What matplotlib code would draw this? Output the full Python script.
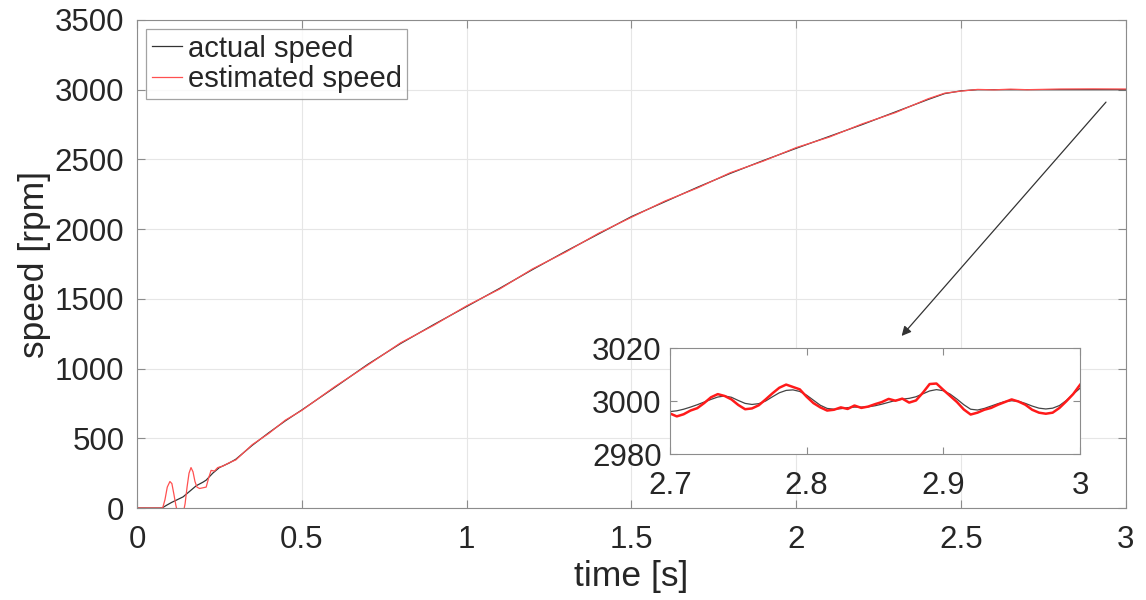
import numpy as np
import matplotlib.pyplot as plt

plt.rcParams['font.family'] = ['Liberation Sans', 'DejaVu Sans']

# main plot data (time [s], speed [rpm])
t_act = [0, 0.076, 0.09, 0.105, 0.12, 0.14, 0.16, 0.18, 0.2, 0.21, 0.23, 0.25, 0.28,
         0.3, 0.35, 0.4, 0.45, 0.5, 0.6, 0.7, 0.8, 0.9, 1.0, 1.1, 1.2, 1.3, 1.4, 1.5,
         1.6, 1.7, 1.8, 1.9, 2.0, 2.1, 2.2, 2.3, 2.4, 2.45, 2.5, 2.55, 2.6, 2.7, 2.8,
         2.9, 3.0]
v_act = [0, 0, 20, 40, 57, 80, 120, 160, 185, 200, 250, 290, 323,
         350, 450, 540, 625, 703, 865, 1030, 1180, 1315, 1445, 1575, 1710, 1840, 1965, 2090,
         2195, 2300, 2400, 2492, 2580, 2665, 2750, 2840, 2930, 2972, 2992, 3000, 3000, 3000, 3000,
         3000, 3000]

t_est = [0, 0.078, 0.085, 0.092, 0.1, 0.106, 0.112, 0.118, 0.124, 0.132, 0.14, 0.146,
         0.152, 0.158, 0.164, 0.17, 0.176, 0.182, 0.19, 0.2, 0.21, 0.218, 0.225, 0.235,
         0.245, 0.26, 0.28, 0.3, 0.35, 0.4, 0.45, 0.5, 0.6, 0.7, 0.8, 0.9, 1.0, 1.1, 1.2,
         1.3, 1.4, 1.5, 1.6, 1.7, 1.8, 1.9, 2.0, 2.1, 2.2, 2.3, 2.4, 2.45, 2.5, 2.55, 2.6,
         2.65, 2.7, 2.8, 2.9, 3.0]
v_est = [0, 0, 60, 150, 190, 175, 100, 20, -40, -80, -40, 30,
         150, 250, 290, 260, 190, 150, 140, 145, 150, 220, 270, 265,
         290, 300, 325, 345, 455, 535, 630, 700, 870, 1025, 1185, 1310, 1450, 1570, 1715,
         1835, 1970, 2085, 2200, 2295, 2405, 2488, 2585, 2660, 2755, 2835, 2935, 2975, 2990, 3002, 2999,
         3004, 3000, 3005, 3006, 3005]

# inset data, 2.7 .. 3.0 s in 5 ms steps
t_zoom = np.linspace(2.7, 3.0, 61)
v_act_zoom = [2996.0, 2996.3, 2996.9, 2997.7, 2998.6, 2999.6, 3000.6, 3001.5, 3001.9, 3001.4,
              3000.2, 2999.1, 2998.7, 2999.0, 3000.0, 3001.6, 3003.1, 3004.0, 3004.2, 3003.6,
              3002.2, 3000.3, 2998.4, 2997.2, 2996.9, 2997.1, 2997.5, 2997.7, 2997.7, 2997.8,
              2998.2, 2998.8, 2999.5, 3000.2, 3000.7, 3001.0, 3001.6, 3002.7, 3003.8, 3004.3,
              3003.9, 3002.6, 3000.7, 2998.6, 2996.9, 2996.6, 2997.2, 2998.1, 2999.0, 2999.8,
              3000.1, 2999.9, 2999.1, 2998.1, 2997.3, 2997.0, 2997.3, 2998.3, 3000.2, 3002.6,
              3004.8]
v_est_zoom = [2995.3, 2994.2, 2995.0, 2996.4, 2997.3, 2999.2, 3001.4, 3002.6, 3001.9, 3000.6,
              2998.5, 2996.9, 2997.2, 2998.4, 3000.6, 3002.9, 3005.0, 3006.2, 3005.3, 3004.4,
              3001.6, 2999.2, 2997.6, 2996.4, 2996.7, 2997.6, 2997.0, 2998.3, 2997.4, 2997.9,
              2998.8, 2999.6, 3000.8, 3000.1, 3000.9, 2999.4, 3000.2, 3003.1, 3006.4, 3006.6,
              3004.2, 3001.9, 2999.6, 2996.8, 2994.9, 2995.6, 2996.7, 2997.4, 2998.6, 2999.6,
              3000.6, 2999.8, 2998.6, 2996.7, 2995.6, 2995.2, 2995.6, 2997.4, 2999.9, 3002.6,
              3006.1]

txt = '#262626'
edge = '#8c8c8c'

fig = plt.figure(figsize=(11.46, 6.0), dpi=100)
ax = fig.add_axes([0.1195, 0.1533, 0.863, 0.8134])
ax.plot(t_act, v_act, color='#333333', lw=0.9, label='actual speed')
ax.plot(t_est, v_est, color='#ff5050', lw=0.9, label='estimated speed')
ax.set_xlim(0, 3)
ax.set_ylim(0, 3500)
ax.set_xticks([0, 0.5, 1, 1.5, 2, 2.5, 3])
ax.set_xticklabels(['0', '0.5', '1', '1.5', '2', '2.5', '3'])
ax.set_yticks(np.arange(0, 3501, 500))
ax.grid(True, color='#e6e6e6', lw=0.8)
ax.tick_params(direction='in', top=True, right=True, labelsize=22.5, colors=txt,
               length=6, color=edge)
ax.tick_params(axis='y', pad=9)
ax.tick_params(axis='x', pad=12)
for s in ax.spines.values():
    s.set_color(edge)
ax.set_xlabel('time [s]', fontsize=25.5, color=txt, labelpad=4)
ax.set_ylabel('speed [rpm]', fontsize=25.5, color=txt, labelpad=3)
leg = ax.legend(loc='upper left', fontsize=21, frameon=True, fancybox=False,
                edgecolor=edge, handlelength=1.05, handletextpad=0.2,
                borderpad=0.18, labelspacing=0.1, borderaxespad=0.32)
leg.get_frame().set_linewidth(0.9)
for t in leg.get_texts():
    t.set_color(txt)

ax.annotate('', xy=(2.314, 1219), xytext=(2.945, 2926),
            arrowprops=dict(arrowstyle='-|>', color='#333333', lw=0.9,
                            mutation_scale=14))

axin = fig.add_axes([0.5846, 0.2433, 0.3578, 0.1767])
axin.plot(t_zoom, v_act_zoom, color='#444444', lw=0.9)
axin.plot(t_zoom, v_est_zoom, color='#ff1a1a', lw=1.8)
axin.set_xlim(2.7, 3.0)
axin.set_ylim(2980, 3020)
axin.set_xticks([2.7, 2.8, 2.9, 3.0])
axin.set_xticklabels(['2.7', '2.8', '2.9', '3'])
axin.set_yticks([2980, 3000, 3020])
axin.tick_params(direction='in', top=True, right=True, labelsize=22.5, colors=txt,
                 length=5, color=edge)
axin.tick_params(axis='y', pad=6)
axin.tick_params(axis='x', pad=12)
for s in axin.spines.values():
    s.set_color(edge)

fig.savefig('out.png', dpi=100)
